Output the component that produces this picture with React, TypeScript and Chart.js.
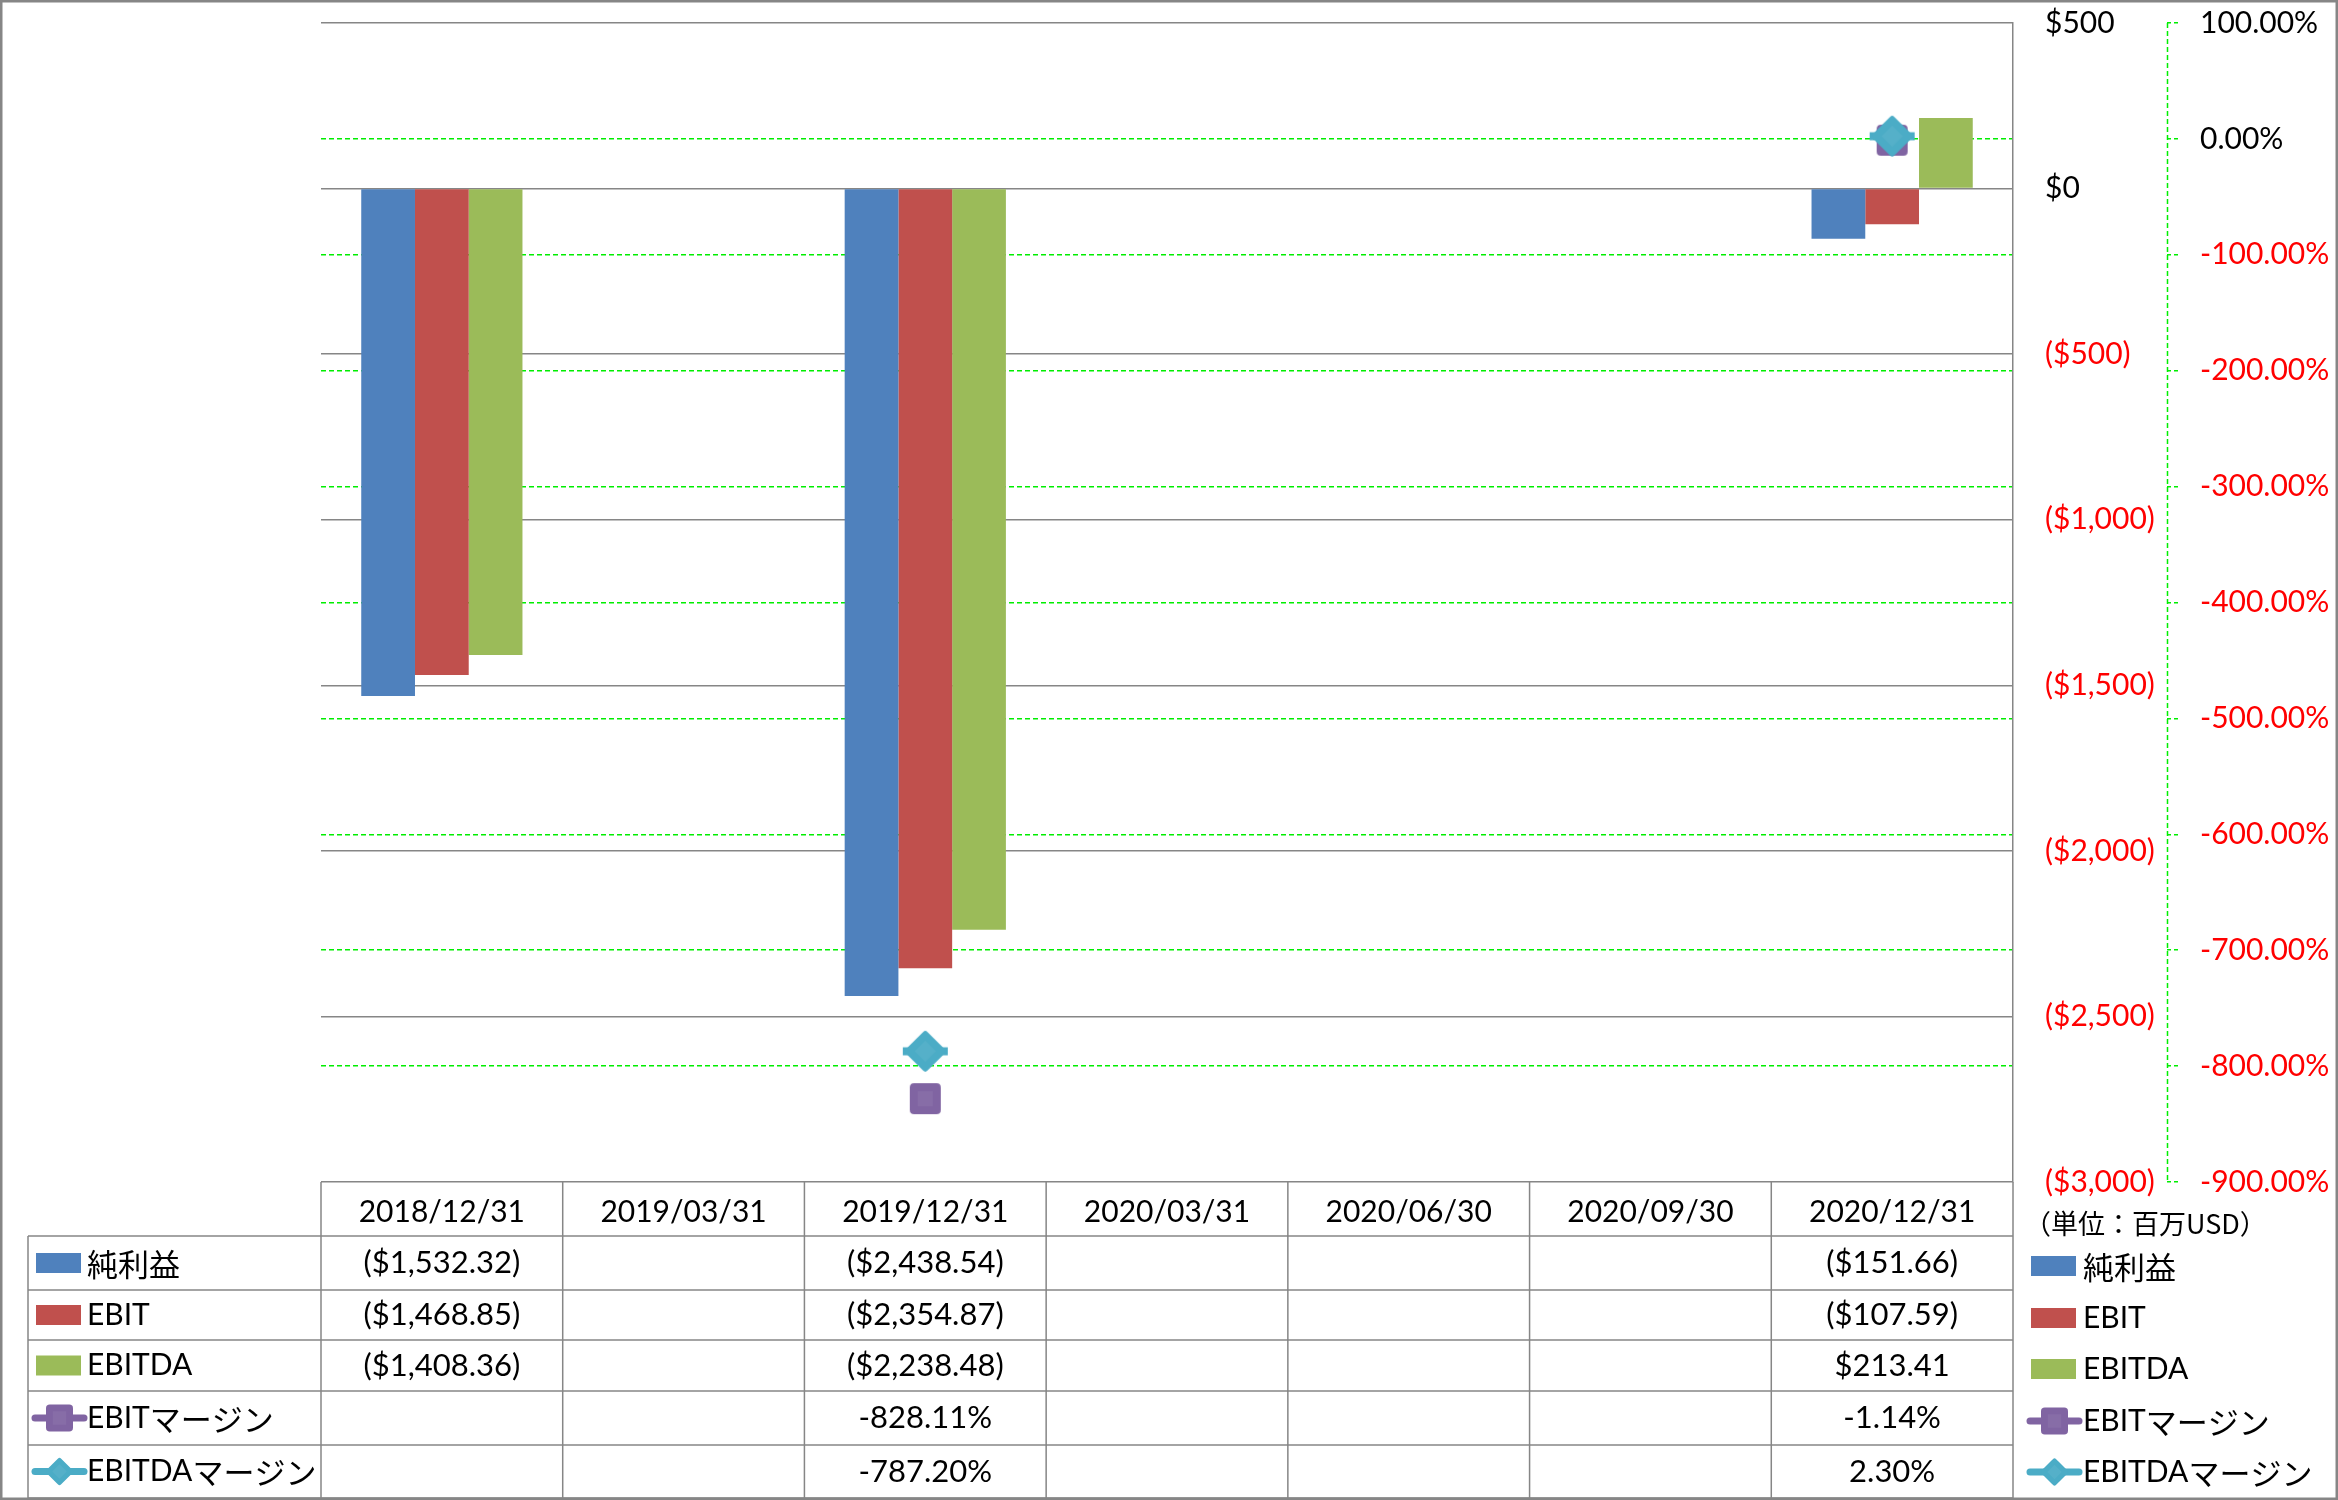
import React, { useEffect, useRef } from 'react';
import { Chart, registerables } from 'chart.js';

Chart.register(...registerables);

// ---------- data ----------
const categories = ['2018/12/31', '2019/03/31', '2019/12/31', '2020/03/31', '2020/06/30', '2020/09/30', '2020/12/31'];
const netIncome = [-1532.32, null, -2438.54, null, null, null, -151.66];
const ebit = [-1468.85, null, -2354.87, null, null, null, -107.59];
const ebitda = [-1408.36, null, -2238.48, null, null, null, 213.41];
const ebitMargin = [null, null, -828.11, null, null, null, -1.14];
const ebitdaMargin = [null, null, -787.2, null, null, null, 2.3];
const seriesNames = ['純利益', 'EBIT', 'EBITDA', 'EBITマージン', 'EBITDAマージン'];
const moneyAxis = [-3000, 500, 500]; // min, max, step
const pctAxis = [-900, 100, 100];
const unitLabel = '（単位：百万USD）';

// ---------- styles ----------
const COLORS = ['#4F81BD', '#C0504D', '#9BBB59', '#8064A2', '#4BACC6'];
const GRAY = '#868686';
const GREEN = '#00EE00';
const RED = '#FF0000';
const LATIN = "Lato, 'Noto Sans CJK JP', sans-serif";
const CJK = "'Noto Sans CJK JP', sans-serif";
const W = 2338;
const H = 1500;
const FONT_SIZE = 30;
const VALUE_SIZE = 31;
const CJK_SIZE = 31;
const TABLE_LEFT = 28;
const ROW_LINES = [1236, 1290, 1340, 1391, 1445, 1498];
const RIGHT_LEGEND_ROWS = [1266, 1318, 1369, 1421, 1472];

function fmtMoney(v: number): string {
  const s = Math.abs(v).toLocaleString('en-US', { minimumFractionDigits: 2, maximumFractionDigits: 2 });
  return v < 0 ? `($${s})` : `$${s}`;
}
function fmtMoneyTick(v: number): string {
  const s = Math.abs(v).toLocaleString('en-US');
  return v < 0 ? `($${s})` : `$${s}`;
}
function fmtPct(v: number): string {
  return v.toFixed(2) + '%';
}

function rr(g: CanvasRenderingContext2D, x: number, y: number, w: number, h: number, r: number) {
  g.beginPath();
  g.moveTo(x + r, y);
  g.lineTo(x + w - r, y);
  g.quadraticCurveTo(x + w, y, x + w, y + r);
  g.lineTo(x + w, y + h - r);
  g.quadraticCurveTo(x + w, y + h, x + w - r, y + h);
  g.lineTo(x + r, y + h);
  g.quadraticCurveTo(x, y + h, x, y + h - r);
  g.lineTo(x, y + r);
  g.quadraticCurveTo(x, y, x + r, y);
  g.closePath();
}

function drawSquareMarker(g: CanvasRenderingContext2D, cx: number, cy: number, size: number, color: string) {
  g.fillStyle = color;
  rr(g, cx - size / 2, cy - size / 2, size, size, size * 0.14);
  g.fill();
  g.fillStyle = 'rgba(255,255,255,0.06)';
  g.fillRect(cx - size * 0.25, cy - size * 0.25, size * 0.5, size * 0.5);
}

function drawDiamondMarker(g: CanvasRenderingContext2D, cx: number, cy: number, size: number, color: string) {
  const s = size / Math.SQRT2;
  g.save();
  g.translate(cx, cy);
  g.rotate(Math.PI / 4);
  g.fillStyle = color;
  rr(g, -s / 2, -s / 2, s, s, s * 0.1);
  g.fill();
  g.fillStyle = 'rgba(255,255,255,0.06)';
  g.fillRect(-s * 0.25, -s * 0.25, s * 0.5, s * 0.5);
  g.restore();
}

function drawStub(g: CanvasRenderingContext2D, x1: number, x2: number, y: number, color: string, w: number) {
  g.strokeStyle = color;
  g.lineWidth = w;
  g.lineCap = 'round';
  g.beginPath();
  g.moveTo(x1, y);
  g.lineTo(x2, y);
  g.stroke();
}

function makeSquareImage(size: number, color: string): HTMLCanvasElement {
  const c = document.createElement('canvas');
  c.width = size + 2;
  c.height = size + 2;
  const g = c.getContext('2d')!;
  drawSquareMarker(g, c.width / 2, c.height / 2, size, color);
  return c;
}

function makeDiamondImage(size: number, color: string): HTMLCanvasElement {
  const c = document.createElement('canvas');
  c.width = size + 4;
  c.height = size + 2;
  const g = c.getContext('2d')!;
  g.fillStyle = color;
  g.fillRect(c.width / 2 - size / 2 - 1, c.height / 2 - 4, size + 2, 8);
  drawDiamondMarker(g, c.width / 2, c.height / 2, size, color);
  return c;
}

function drawMixed(ctx: CanvasRenderingContext2D, text: string, x: number, y: number, latinSize: number, cjkSize: number) {
  const runs: { t: string; cjk: boolean }[] = [];
  for (const ch of text) {
    const isCjk = ch.charCodeAt(0) >= 0x2e80;
    if (runs.length && runs[runs.length - 1].cjk === isCjk) runs[runs.length - 1].t += ch;
    else runs.push({ t: ch, cjk: isCjk });
  }
  ctx.textAlign = 'left';
  ctx.textBaseline = 'middle';
  let cx = x;
  for (const r of runs) {
    ctx.font = r.cjk ? `${cjkSize}px ${CJK}` : `${latinSize}px ${LATIN}`;
    ctx.fillText(r.t, cx, r.cjk ? y + 1 : y);
    cx += ctx.measureText(r.t).width;
  }
}

function drawLegendSymbol(ctx: CanvasRenderingContext2D, i: number, x: number, y: number) {
  const color = COLORS[i];
  if (i < 3) {
    ctx.fillStyle = color;
    ctx.fillRect(x, y - 10, 45, 20);
  } else {
    drawStub(ctx, x - 1, x + 48, y, color, 7);
    if (i === 3) drawSquareMarker(ctx, x + 23.5, y, 27, color);
    else drawDiamondMarker(ctx, x + 23.5, y, 29, color);
  }
}

const tablePlugin = {
  id: 'dataTablePlugin',
  afterDraw(chart: any) {
    const ctx: CanvasRenderingContext2D = chart.ctx;
    const ca = chart.chartArea;
    const xs = chart.scales.x;
    const y2 = chart.scales.y2;
    const n = categories.length;
    const colW = (ca.right - ca.left) / n;
    ctx.save();

    // secondary axis dashed line
    ctx.strokeStyle = GREEN;
    ctx.lineWidth = 1.5;
    ctx.setLineDash([5, 3]);
    ctx.beginPath();
    ctx.moveTo(Math.round(y2.left) + 0.5, ca.top);
    ctx.lineTo(Math.round(y2.left) + 0.5, ca.bottom);
    ctx.stroke();
    ctx.setLineDash([]);

    // table grid
    ctx.strokeStyle = GRAY;
    ctx.lineWidth = 1.5;
    ctx.beginPath();
    for (let r = 0; r < ROW_LINES.length; r++) {
      ctx.moveTo(TABLE_LEFT, ROW_LINES[r]);
      ctx.lineTo(ca.right, ROW_LINES[r]);
    }
    ctx.moveTo(TABLE_LEFT, ROW_LINES[0]);
    ctx.lineTo(TABLE_LEFT, ROW_LINES[ROW_LINES.length - 1]);
    for (let c = 0; c <= n; c++) {
      const x = ca.left + c * colW;
      ctx.moveTo(x, ca.bottom);
      ctx.lineTo(x, ROW_LINES[ROW_LINES.length - 1]);
    }
    ctx.stroke();

    // table rows
    const rowsData: (number | null)[][] = [netIncome, ebit, ebitda, ebitMargin, ebitdaMargin];
    for (let r = 0; r < rowsData.length; r++) {
      const cy = (ROW_LINES[r] + ROW_LINES[r + 1]) / 2;
      drawLegendSymbol(ctx, r, 36, cy);
      ctx.fillStyle = '#000';
      drawMixed(ctx, seriesNames[r], 87, cy, FONT_SIZE, CJK_SIZE);
      ctx.font = `${VALUE_SIZE}px ${LATIN}`;
      ctx.textAlign = 'center';
      ctx.textBaseline = 'middle';
      ctx.fillStyle = '#000';
      rowsData[r].forEach((v, i) => {
        if (v === null) return;
        const x = xs.getPixelForValue(i);
        ctx.fillText(r < 3 ? fmtMoney(v) : fmtPct(v), x, cy);
      });
    }

    // right legend
    ctx.fillStyle = '#000';
    ctx.font = `27px ${CJK}`;
    ctx.textAlign = 'left';
    ctx.textBaseline = 'middle';
    ctx.fillText(unitLabel, 2024, 1224);
    for (let r = 0; r < seriesNames.length; r++) {
      const cy = RIGHT_LEGEND_ROWS[r];
      drawLegendSymbol(ctx, r, 2031, cy);
      ctx.fillStyle = '#000';
      drawMixed(ctx, seriesNames[r], 2083, cy, FONT_SIZE, CJK_SIZE);
    }

    // outer border
    ctx.strokeStyle = GRAY;
    ctx.lineWidth = 2.5;
    ctx.strokeRect(1.25, 1.25, W - 2.5, H - 2.5);
    ctx.restore();
  },
};

export default function App() {
  const ref = useRef<HTMLCanvasElement | null>(null);

  useEffect(() => {
    const canvas = ref.current;
    if (!canvas) return;
    const ebitImg = makeSquareImage(31, COLORS[3]);
    const ebitdaImg = makeDiamondImage(43, COLORS[4]);
    const tickFont = { family: LATIN, size: FONT_SIZE };
    const barCommon = { categoryPercentage: 0.667, barPercentage: 1.0, yAxisID: 'y', borderWidth: 0, order: 2 };
    const noPad = (s: any) => { s.paddingTop = 0; s.paddingBottom = 0; };

    const chart = new Chart(canvas, {
      type: 'bar',
      data: {
        labels: categories,
        datasets: [
          { ...barCommon, type: 'bar', label: seriesNames[0], data: netIncome, backgroundColor: COLORS[0] },
          { ...barCommon, type: 'bar', label: seriesNames[1], data: ebit, backgroundColor: COLORS[1] },
          { ...barCommon, type: 'bar', label: seriesNames[2], data: ebitda, backgroundColor: COLORS[2] },
          {
            type: 'line', label: seriesNames[3], data: ebitMargin, yAxisID: 'y2', showLine: false,
            pointStyle: ebitImg, pointRadius: 16, borderColor: COLORS[3], backgroundColor: COLORS[3], order: 1,
          },
          {
            type: 'line', label: seriesNames[4], data: ebitdaMargin, yAxisID: 'y2', showLine: false,
            pointStyle: ebitdaImg, pointRadius: 22, borderColor: COLORS[4], backgroundColor: COLORS[4], order: 0,
          },
        ] as any,
      },
      options: {
        responsive: false,
        animation: false,
        devicePixelRatio: 1,
        layout: { padding: { left: 321, top: 21, right: 0, bottom: 0 } },
        plugins: { legend: { display: false }, tooltip: { enabled: false } },
        scales: {
          x: {
            position: 'bottom',
            grid: { display: false, drawTicks: false },
            border: { display: false },
            ticks: { font: tickFont, color: '#000', padding: 12, maxRotation: 0, autoSkip: false },
            afterFit: (s: any) => { s.height = H - 1182; s.paddingLeft = 0; s.paddingRight = 0; },
          },
          y: {
            position: 'right',
            min: moneyAxis[0],
            max: moneyAxis[1],
            ticks: {
              stepSize: moneyAxis[2],
              font: tickFont,
              padding: 32,
              color: (c: any) => (c.tick && c.tick.value < 0 ? RED : '#000'),
              callback: (v: any) => fmtMoneyTick(Number(v)),
            },
            grid: { color: GRAY, lineWidth: 1.5, drawTicks: false },
            border: { display: true, color: GRAY, width: 1.5 },
            afterFit: (s: any) => { s.width = 154; noPad(s); },
          },
          y2: {
            position: 'right',
            min: pctAxis[0],
            max: pctAxis[1],
            ticks: {
              stepSize: pctAxis[2],
              font: tickFont,
              padding: 21,
              color: (c: any) => (c.tick && c.tick.value < 0 ? RED : '#000'),
              callback: (v: any) => fmtPct(Number(v)),
            },
            grid: {
              color: (c: any) => (c.tick && (c.tick.value === pctAxis[1] || c.tick.value === pctAxis[0]) ? 'rgba(0,0,0,0)' : GREEN),
              lineWidth: 1.5,
              drawTicks: true,
              tickLength: 12,
              tickColor: GREEN,
              tickWidth: 1.5,
              tickBorderDash: [4, 3],
            },
            border: { display: false, dash: [5, 3] },
            afterFit: (s: any) => { s.width = W - 2167; noPad(s); },
          },
        },
      } as any,
      plugins: [tablePlugin],
    });
    return () => chart.destroy();
  }, []);

  return (
    <div style={{ position: 'absolute', left: 0, top: 0, width: W, height: H, background: '#fff' }}>
      <canvas ref={ref} width={W} height={H} style={{ width: W, height: H, display: 'block' }} />
    </div>
  );
}
